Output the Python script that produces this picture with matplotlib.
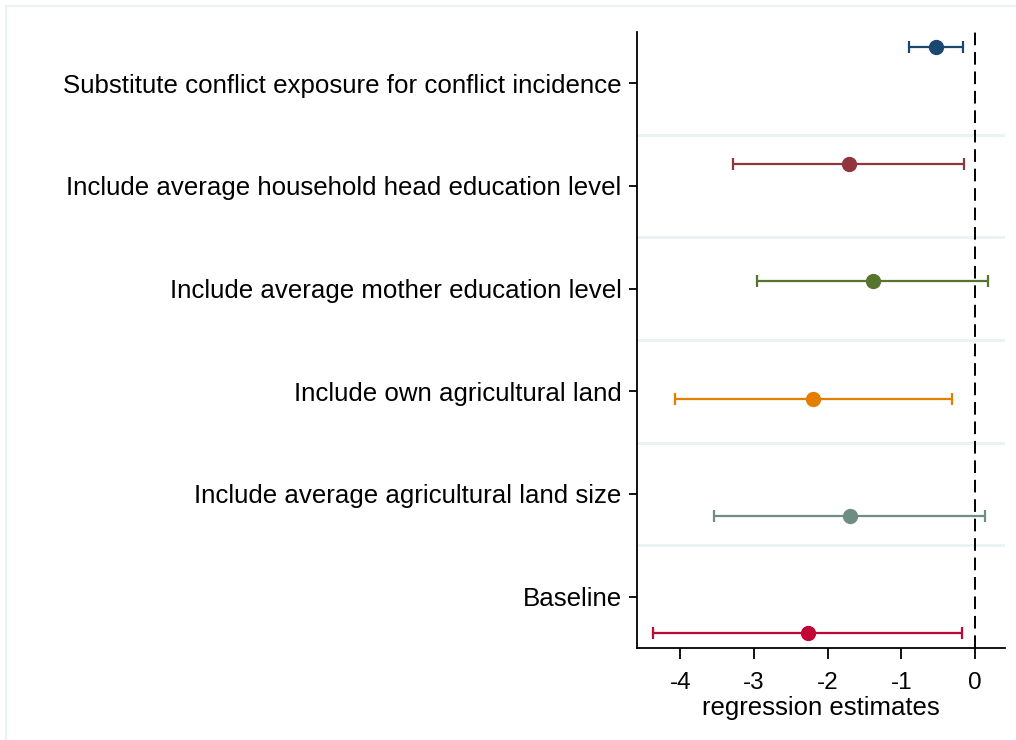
import numpy as np
import matplotlib
matplotlib.use("Agg")
import matplotlib.pyplot as plt
from matplotlib.patches import Rectangle

plt.rcParams['font.family'] = ['Liberation Sans', 'DejaVu Sans']

# Specifications, listed top to bottom
labels = [
    "Substitute conflict exposure for conflict incidence",
    "Include average household head education level",
    "Include average mother education level",
    "Include own agricultural land",
    "Include average agricultural land size",
    "Baseline",
]
estimates = [-0.53, -1.71, -1.39, -2.20, -1.70, -2.27]
ci_low = [-0.90, -3.28, -2.96, -4.07, -3.54, -4.37]
ci_high = [-0.16, -0.15, 0.18, -0.31, 0.14, -0.18]
colors = ["#1a476f", "#90353b", "#55752f", "#e37e00", "#6e8e84", "#c10534"]

xticks = [-4, -3, -2, -1, 0]

fig = plt.figure(figsize=(10.16, 7.40), dpi=100)
fig.patch.set_facecolor("white")

# light outer frame
fig.patches.append(Rectangle((6 / 1016, -0.05), 1.2, 1 - 6 / 740 + 0.05,
                             transform=fig.transFigure, fill=False,
                             edgecolor="#eaf2f3", linewidth=1.5))

ax = fig.add_axes([637 / 1016, 1 - 648 / 740, (1005 - 637) / 1016, (648 - 32) / 740])

n = len(labels)
cats = np.arange(n)
# each model is shifted within its row, as coefplot does
offsets = (cats - (n - 1) / 2) / (n + 1)
ypos = cats + offsets

# row separators
for b in np.arange(n - 1) + 0.5:
    ax.axhline(b, color="#eaf2f3", linewidth=2.0, zorder=0)

ax.axvline(0, color="black", linewidth=1.4, linestyle=(0, (6.5, 3.5)), zorder=1)

for i in range(n):
    est = estimates[i]
    ax.errorbar(est, ypos[i],
                xerr=[[est - ci_low[i]], [ci_high[i] - est]],
                fmt="o", color=colors[i], markersize=10,
                elinewidth=1.6, capsize=4.3, capthick=1.6, zorder=3)

ax.set_ylim(n - 0.5, -0.5)
ax.set_yticks(cats)
ax.set_yticklabels(labels, fontsize=18.6)
ax.set_xlim(-4.587, 0.407)
ax.set_xticks(xticks)
ax.set_xticklabels([str(t) for t in xticks], fontsize=17.5)
ax.set_xlabel("regression estimates", fontsize=18.5, labelpad=2)

for s in ["top", "right"]:
    ax.spines[s].set_visible(False)
for s in ["left", "bottom"]:
    ax.spines[s].set_linewidth(1.3)
ax.tick_params(axis="y", length=6, width=1.3, pad=5)
ax.tick_params(axis="x", length=8, width=1.3, pad=9)

fig.savefig("out.png", dpi=100, facecolor="white")
